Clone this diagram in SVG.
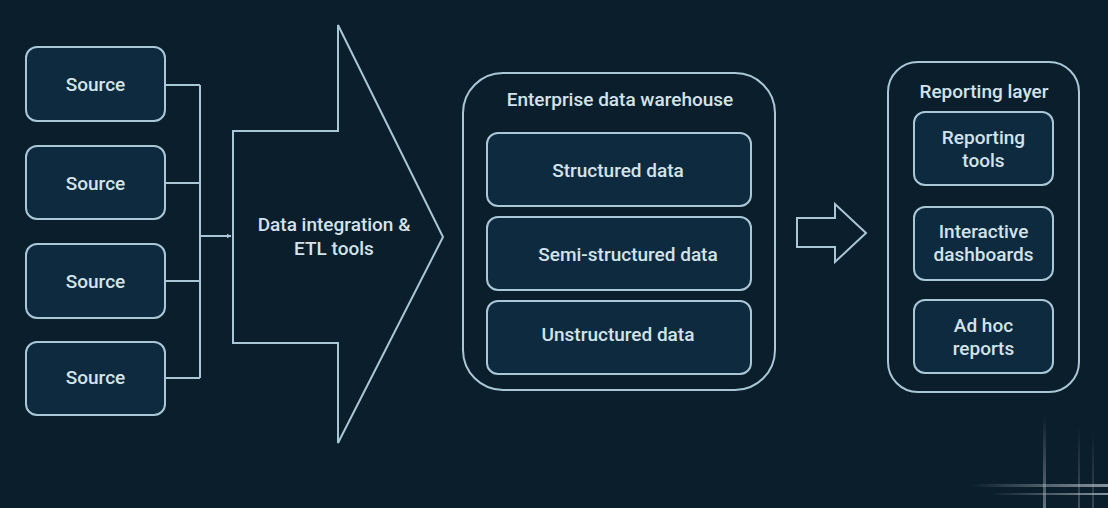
<svg xmlns="http://www.w3.org/2000/svg" width="1108" height="508" viewBox="0 0 1108 508">
<defs>
<style>
.bg{fill:#0a1e2c}
.box{fill:#0e2a3e;stroke:#a9c7d6;stroke-width:2}
.outline{fill:none;stroke:#a9c7d6;stroke-width:2}
.con{fill:none;stroke:#a9c7d6;stroke-width:2}
.t{font-family:Roboto,"Liberation Sans",sans-serif;font-weight:500;font-size:19px;fill:#d3e3ec;text-anchor:middle}
</style>
<marker id="ah" viewBox="0 0 10 10" refX="9" refY="5" markerWidth="5" markerHeight="5" orient="auto" markerUnits="userSpaceOnUse">
<path d="M0,0 L10,5 L0,10 z" fill="#a9c7d6"/>
</marker>
<linearGradient id="gh" x1="0" y1="0" x2="1" y2="0">
<stop offset="0" stop-color="#ffffff" stop-opacity="0"/>
<stop offset="1" stop-color="#e8f2f6" stop-opacity="0.7"/>
</linearGradient>
<linearGradient id="gv" x1="0" y1="0" x2="0" y2="1">
<stop offset="0" stop-color="#ffffff" stop-opacity="0"/>
<stop offset="1" stop-color="#e8f2f6" stop-opacity="0.5"/>
</linearGradient>
</defs>
<rect class="bg" x="0" y="0" width="1108" height="508"/>

<g id="connectors">
<path class="con" d="M165,85 H200 M165,183 H200 M165,281 H200 M165,378 H200 M200,85 V378"/>
<path class="con" d="M200,236 H231" marker-end="url(#ah)"/>
</g>

<g id="source1"><rect class="box" x="26" y="47" width="139" height="74" rx="11"/><text class="t" x="95.5" y="91">Source</text></g>
<g id="source2"><rect class="box" x="26" y="146" width="139" height="73" rx="11"/><text class="t" x="95.5" y="190">Source</text></g>
<g id="source3"><rect class="box" x="26" y="244" width="139" height="74" rx="11"/><text class="t" x="95.5" y="288">Source</text></g>
<g id="source4"><rect class="box" x="26" y="342" width="139" height="73" rx="11"/><text class="t" x="95.5" y="384">Source</text></g>

<g id="etl">
<path class="outline" d="M233,131 H338 V25 L443,237 L338,443 V343 H233 Z"/>
<text class="t" x="334" y="231">Data integration &amp;</text>
<text class="t" x="334" y="255">ETL tools</text>
</g>

<g id="warehouse">
<rect class="outline" x="463" y="73" width="312" height="317" rx="40"/>
<text class="t" x="620" y="106">Enterprise data warehouse</text>
</g>
<g id="structured"><rect class="box" x="487" y="133" width="264" height="73" rx="11"/><text class="t" x="618" y="177">Structured data</text></g>
<g id="semistructured"><rect class="box" x="487" y="217" width="264" height="73" rx="11"/><text class="t" x="628" y="261">Semi-structured data</text></g>
<g id="unstructured"><rect class="box" x="487" y="301" width="264" height="73" rx="11"/><text class="t" x="618" y="341">Unstructured data</text></g>

<g id="flow-arrow">
<path class="outline" d="M797,218 H835 V204 L866,233 L835,262 V247 H797 Z"/>
</g>

<g id="reporting">
<rect class="outline" x="888" y="62" width="191" height="330" rx="30"/>
<text class="t" x="984" y="98">Reporting layer</text>
</g>
<g id="reporting-tools"><rect class="box" x="914" y="112" width="139" height="73" rx="11"/><text class="t" x="983.5" y="144">Reporting</text><text class="t" x="983.5" y="167">tools</text></g>
<g id="dashboards"><rect class="box" x="914" y="207" width="139" height="73" rx="11"/><text class="t" x="983.5" y="238">Interactive</text><text class="t" x="983.5" y="261">dashboards</text></g>
<g id="adhoc"><rect class="box" x="914" y="300" width="139" height="73" rx="11"/><text class="t" x="983.5" y="332">Ad hoc</text><text class="t" x="983.5" y="355">reports</text></g>

<g id="glow" opacity="0.8">
<rect x="970" y="484" width="138" height="3" fill="url(#gh)"/>
<rect x="990" y="493" width="118" height="2" fill="url(#gh)"/>
<rect x="1043" y="415" width="3" height="93" fill="url(#gv)"/>
<rect x="1078" y="425" width="2" height="83" fill="url(#gv)" opacity="0.6"/>
<rect x="1092" y="430" width="2" height="78" fill="url(#gv)" opacity="0.5"/>
</g>
</svg>
